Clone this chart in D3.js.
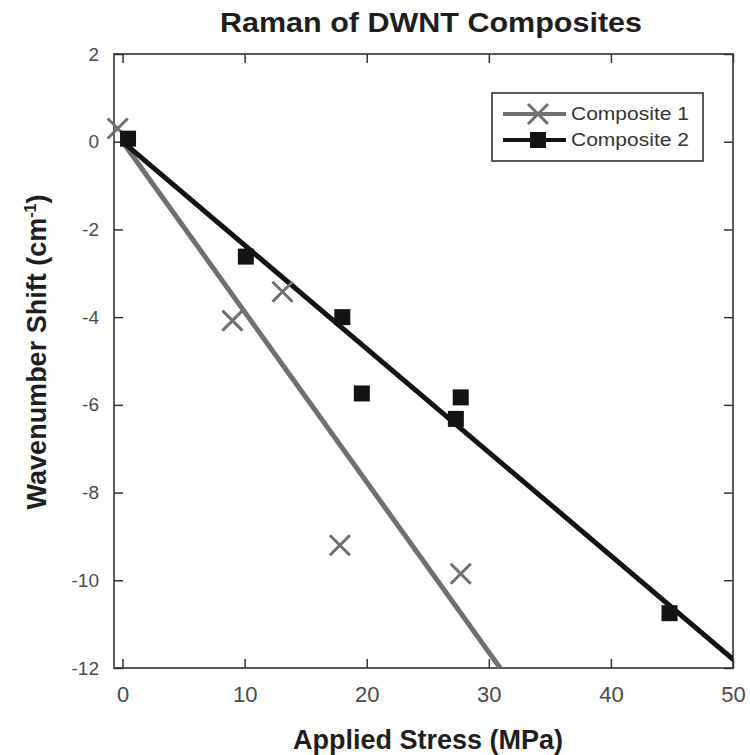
<!DOCTYPE html>
<html>
<head>
<meta charset="utf-8">
<script src="https://cdn.jsdelivr.net/npm/d3@7"></script>
<style>
  html, body { margin: 0; padding: 0; background: #fff; }
  svg { display: block; }
</style>
</head>
<body>
<svg id="chart" width="750" height="755"></svg>
<script>
// ---- data ----
const seriesNames = ["Composite 1", "Composite 2"];
const comp1X = [-0.4, 9.0, 13.1, 17.8, 27.7];
const comp1Y = [0.3, -4.08, -3.42, -9.2, -9.85];
const comp2X = [0.45, 10.1, 18.0, 19.6, 27.3, 27.7, 44.8];
const comp2Y = [0.07, -2.62, -4.0, -5.74, -6.32, -5.83, -10.75];
const fitSlope = [-0.388, -0.236];
const fitIntercept = [0.0, 0.0];
const fitXEnd = [31.4, 50];
const xTicks = [0, 10, 20, 30, 40, 50];
const yTicks = [2, 0, -2, -4, -6, -8, -10, -12];

// ---- layout ----
const svg = d3.select("#chart");
const L = 114, R = 733, T = 54, B = 668;
const x = d3.scaleLinear().domain([-0.7, 50]).range([L, R]);
const y = d3.scaleLinear().domain([-12, 2]).range([B, T]);

const tickFont = "'Liberation Sans Narrow', 'Liberation Sans', Arial, sans-serif";
const legFont = "'Liberation Sans', Arial, sans-serif";
const boldFont = "'Liberation Sans', Arial, sans-serif";

// title
svg.append("text").attr("x", 431).attr("y", 32)
  .attr("text-anchor", "middle").attr("font-family", boldFont)
  .attr("font-weight", "bold").attr("font-size", 27).attr("fill", "#1e1e1e")
  .attr("textLength", 422).attr("lengthAdjust", "spacingAndGlyphs")
  .text("Raman of DWNT Composites");

// clip for lines
svg.append("clipPath").attr("id", "clip").append("rect")
  .attr("x", L).attr("y", T).attr("width", R - L).attr("height", B - T);

// axes with inward ticks
const tl = 9;
const axB = d3.axisBottom(x).tickValues(xTicks).tickSizeInner(-tl).tickSizeOuter(0).tickFormat(d3.format("d"));
const axT = d3.axisTop(x).tickValues(xTicks).tickSizeInner(-tl).tickSizeOuter(0).tickFormat("");
const axL = d3.axisLeft(y).tickValues(yTicks).tickSizeInner(-tl).tickSizeOuter(0).tickFormat(d3.format("d"));
const axR = d3.axisRight(y).tickValues(yTicks).tickSizeInner(-tl).tickSizeOuter(0).tickFormat("");

function styleAxis(g) {
  g.select(".domain").remove();
  g.selectAll(".tick line").attr("stroke", "#333").attr("stroke-width", 1.5);
  g.selectAll(".tick text").attr("font-family", tickFont).attr("fill", "#4a4a4a");
}
svg.append("g").attr("transform", `translate(0,${B})`).call(axB).call(styleAxis)
  .selectAll(".tick text").attr("font-size", 22).attr("y", 0).attr("dy", "1.55em");
svg.append("g").attr("transform", `translate(0,${T})`).call(axT).call(styleAxis);
svg.append("g").attr("transform", `translate(${L},0)`).call(axL).call(styleAxis)
  .selectAll(".tick text").attr("font-size", 19).attr("x", -15).text(d => d < 0 ? "-" + Math.abs(d) : d);
svg.append("g").attr("transform", `translate(${R},0)`).call(axR).call(styleAxis);

// frame
svg.append("rect").attr("x", L).attr("y", T).attr("width", R - L).attr("height", B - T)
  .attr("fill", "none").attr("stroke", "#333").attr("stroke-width", 1.6);

// fit lines
const colors = ["#707070", "#141414"];
const plot = svg.append("g").attr("clip-path", "url(#clip)");
fitSlope.forEach((m, i) => {
  const x0 = 0, x1 = fitXEnd[i];
  plot.append("line")
    .attr("x1", x(x0)).attr("y1", y(fitIntercept[i] + m * x0))
    .attr("x2", x(x1)).attr("y2", y(fitIntercept[i] + m * x1))
    .attr("stroke", colors[i]).attr("stroke-width", 5).attr("stroke-linecap", "round");
});

// markers
const xs = 10;
function drawX(g, cx, cy) {
  g.append("path").attr("d", `M${cx - xs},${cy - xs}L${cx + xs},${cy + xs}M${cx - xs},${cy + xs}L${cx + xs},${cy - xs}`)
    .attr("stroke", colors[0]).attr("stroke-width", 3).attr("fill", "none");
}
const sq = 16;
function drawSq(g, cx, cy) {
  g.append("rect").attr("x", cx - sq / 2).attr("y", cy - sq / 2).attr("width", sq).attr("height", sq)
    .attr("fill", colors[1]);
}
const mk = svg.append("g");
comp1X.forEach((v, i) => drawX(mk, x(v), y(comp1Y[i])));
comp2X.forEach((v, i) => drawSq(mk, x(v), y(comp2Y[i])));

// legend
const lg = svg.append("g");
lg.append("rect").attr("x", 492).attr("y", 93).attr("width", 211).attr("height", 68)
  .attr("fill", "#fff").attr("stroke", "#333").attr("stroke-width", 1.6);
seriesNames.forEach((name, i) => {
  const ly = 114 + i * 26;
  lg.append("line").attr("x1", 503).attr("x2", 566).attr("y1", ly).attr("y2", ly)
    .attr("stroke", colors[i]).attr("stroke-width", 4);
  if (i === 0) drawX(lg, 538, ly); else drawSq(lg, 538, ly);
  lg.append("text").attr("x", 571).attr("y", ly).attr("dy", "0.36em")
    .attr("font-family", legFont).attr("font-size", 18).attr("fill", "#333")
    .attr("textLength", 118).attr("lengthAdjust", "spacingAndGlyphs").text(name);
});

// axis titles
svg.append("text").attr("x", 428).attr("y", 749).attr("text-anchor", "middle")
  .attr("font-family", boldFont).attr("font-weight", "bold").attr("font-size", 27).attr("fill", "#1e1e1e")
  .attr("textLength", 270).attr("lengthAdjust", "spacingAndGlyphs")
  .text("Applied Stress (MPa)");
const yl = svg.append("text").attr("transform", "translate(46,352) rotate(-90)")
  .attr("text-anchor", "middle").attr("font-family", boldFont).attr("font-weight", "bold")
  .attr("font-size", 27).attr("fill", "#1e1e1e");
yl.append("tspan").text("Wavenumber Shift (cm");
yl.append("tspan").attr("dy", -10).attr("font-size", 16).text("-1");
yl.append("tspan").attr("dy", 10).text(")");
</script>
</body>
</html>
